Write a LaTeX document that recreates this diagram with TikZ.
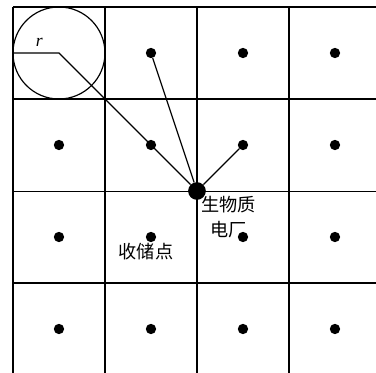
\documentclass[tikz,border=0pt]{standalone}
\usepackage{fontspec}
\setmainfont{Liberation Serif}
\newfontfamily\cjk{Noto Sans CJK SC}
\usetikzlibrary{positioning}

\begin{document}
\begin{tikzpicture}[x=2.76cm, y=2.76cm,
  gridline/.style={line width=1.3pt},
  midline/.style={line width=0.7pt},
  link/.style={line width=1pt},
  spot/.style={circle, fill=black, inner sep=0pt, minimum size=0.31cm},
  plant/.style={circle, fill=black, inner sep=0pt, minimum size=0.53cm},
  lbl/.style={font=\cjk\fontsize{15.5}{22}\selectfont, align=center, inner sep=0pt}]

  \useasboundingbox (-0.141,0.076) rectangle (3.946,-3.978);

  \foreach \i in {0,1,2,3}
    \draw [gridline] (\i,0) -- (\i,-3.978);
  \foreach \j in {0,1,3}
    \draw [gridline] (0,-\j) -- (3.946,-\j);
  \draw [midline] (0,-2) -- (3.946,-2);

  \coordinate (ctr) at (0.5,-0.5);
  \coordinate (edge) at (0,-0.5);
  \node [plant] (pp) at (2,-2) {};
  \foreach \i/\j in {1/0,2/0,3/0,0/1,1/1,2/1,3/1,0/2,1/2,2/2,3/2,0/3,1/3,2/3,3/3}
    \node [spot] (d\i\j) at (\i+0.5,-\j-0.5) {};

  \draw [link] (ctr) circle (0.5);
  \draw [link] (edge) -- (ctr) -- (pp);
  \draw [link] (d10) -- (pp);
  \draw [link] (d21) -- (pp);

  \node (rlbl) at (0.286,-0.388) {\fontsize{15}{18}\selectfont\textit{r}};
  \node [lbl] (plantlbl) at (2.342,-2.283) {生物质\\电厂};
  \node [lbl] (store) at (1.446,-2.658) {收储点};
\end{tikzpicture}
\end{document}
